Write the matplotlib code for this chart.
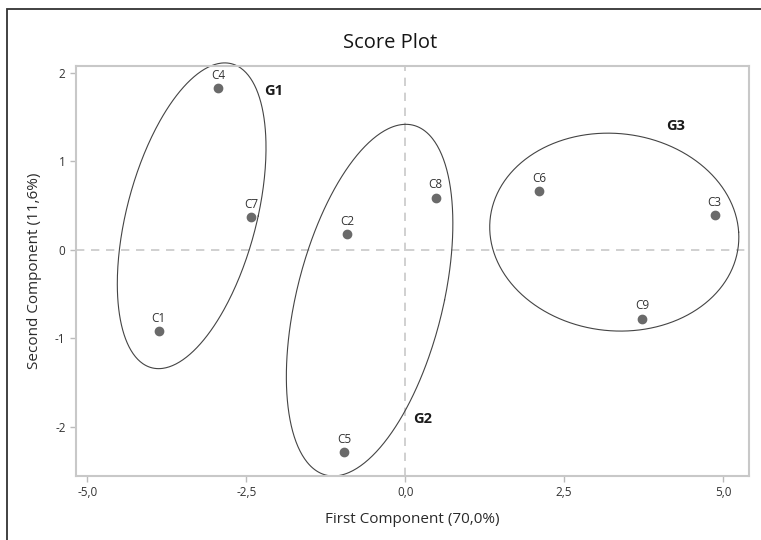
import matplotlib
matplotlib.use("Agg")
import matplotlib.pyplot as plt
import numpy
from matplotlib.patches import Rectangle

plt.rcParams['font.family'] = ['Open Sans', 'DejaVu Sans']

# score values
names = ["C1", "C2", "C3", "C4", "C5", "C6", "C7", "C8", "C9"]
first_comp = [-3.88, -0.91, 4.87, -2.94, -0.96, 2.11, -2.42, 0.48, 3.73]
second_comp = [-0.92, 0.18, 0.39, 1.83, -2.29, 0.66, 0.37, 0.59, -0.78]

# group ellipses: centre x, centre y, half width, half height, x shift of the top point
groups = ["G1", "G2", "G3"]
ell_cx = [-3.36, -0.56, 3.29]
ell_cy = [0.385, -0.57, 0.20]
ell_hx = [1.17, 1.31, 1.96]
ell_hy = [1.73, 1.99, 1.12]
ell_top_dx = [0.52, 0.57, -0.10]
group_lab_x = [-2.22, 0.13, 4.11]
group_lab_y = [1.80, -1.91, 1.40]

x_ticks = [-5.0, -2.5, 0.0, 2.5, 5.0]
y_ticks = [-2, -1, 0, 1, 2]

W, H = 761, 540
fig = plt.figure(figsize=(W / 100, H / 100), dpi=100)
ax = fig.add_axes([76 / W, 1 - 476 / H, (749 - 76) / W, (476 - 66) / H])

grey = "#c8c8c8"
ax.axvline(0, color=grey, ls=(0, (5, 4)), lw=1.2, zorder=1)
ax.axhline(0, color=grey, ls=(0, (5, 4)), lw=1.2, zorder=1)

t = numpy.linspace(0, 2 * numpy.pi, 400)
for i in range(len(groups)):
    side = numpy.sqrt(ell_hx[i] ** 2 - ell_top_dx[i] ** 2)
    ex = ell_cx[i] + ell_top_dx[i] * numpy.sin(t) + side * numpy.cos(t)
    ey = ell_cy[i] + ell_hy[i] * numpy.sin(t)
    ax.plot(ex, ey, color="#444444", lw=0.8, zorder=2, clip_on=False)
    ax.text(group_lab_x[i], group_lab_y[i], groups[i], fontsize=10.5,
            fontweight="bold", color="#1a1a1a", ha="left", va="center")

ax.scatter(first_comp, second_comp, s=36, color="#6a6a6a", zorder=3)
for n, x, y in zip(names, first_comp, second_comp):
    ax.annotate(n, (x, y), xytext=(0, 4.5), textcoords="offset points",
                ha="center", va="bottom", fontsize=8.5, color="#333333")

ax.set_xlim(-5.18, 5.41)
ax.set_ylim(-2.56, 2.08)
ax.set_xticks(x_ticks)
ax.set_xticklabels([("%.1f" % v).replace(".", ",") for v in x_ticks])
ax.set_yticks(y_ticks)
ax.set_yticklabels([str(v) for v in y_ticks])
ax.tick_params(colors="#bbbbbb", labelcolor="#333333", labelsize=8.5,
               length=4, width=1, direction="out")
for sp in ax.spines.values():
    sp.set_color(grey)
    sp.set_linewidth(1.5)

ax.set_xlabel("First Component (70,0%)", fontsize=11, color="#2a2a2a", labelpad=9)
ax.set_ylabel("Second Component (11,6%)", fontsize=11, color="#2a2a2a", labelpad=9)
fig.text(390 / W, 1 - 43 / H, "Score Plot", fontsize=14.5, color="#151515",
         ha="center", va="center")

# outer frame of the original screenshot
fig.add_artist(Rectangle((7 / W, -0.1), 2, 1.1 - 9 / H, transform=fig.transFigure,
                         fill=False, edgecolor="#333333", lw=1.3))

fig.savefig("out.png", dpi=100)
